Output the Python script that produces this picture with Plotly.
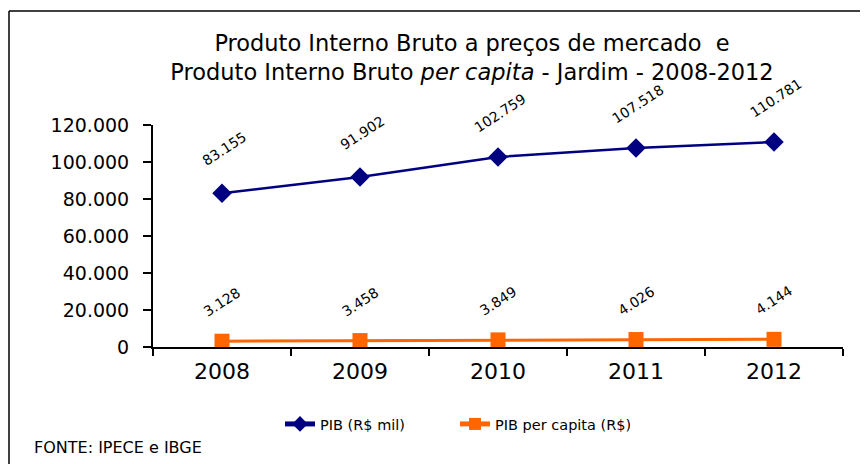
import plotly.graph_objects as go

years = ["2008", "2009", "2010", "2011", "2012"]
pib = [83155, 91902, 102759, 107518, 110781]
pib_pc = [3128, 3458, 3849, 4026, 4144]
pib_labels = ["83.155", "91.902", "102.759", "107.518", "110.781"]
pc_labels = ["3.128", "3.458", "3.849", "4.026", "4.144"]
y_ticks = [0, 20000, 40000, 60000, 80000, 100000, 120000]
y_tick_text = ["0", "20.000", "40.000", "60.000", "80.000", "100.000", "120.000"]

NAVY = "#000080"
ORANGE = "#FF6600"
FONT = "DejaVu Sans, Liberation Sans, Arial, sans-serif"

# layout geometry (figure pixel coordinates; page body adds ~8px offset)
OFF = 8
L, T, PW, PH = 153 - OFF, 125 - OFF, 690, 222
W, H = 868, 464
XB = T + PH  # x-axis y position in figure px


def px(xpix):
    return (xpix - OFF - L) / PW


def py(ypix):
    return (XB - (ypix - OFF)) / PH


fig = go.Figure()
fig.add_trace(go.Scatter(
    x=years, y=pib, name="PIB (R$ mil)", mode="lines+markers",
    line=dict(color=NAVY, width=2.5),
    marker=dict(symbol="diamond", size=15, color=NAVY),
))
fig.add_trace(go.Scatter(
    x=years, y=pib_pc, name="PIB per capita (R$)", mode="lines+markers",
    line=dict(color=ORANGE, width=3),
    marker=dict(symbol="square", size=15, color=ORANGE),
))

annotations = []
# category axis: annotation x given as category index (position in years list)
for i, (y, t) in enumerate(zip(pib, pib_labels)):
    annotations.append(dict(x=i, y=y, text=t, showarrow=False, textangle=-33,
                            yshift=44, xshift=2, font=dict(size=14, color="black", family=FONT)))
for i, (y, t) in enumerate(zip(pib_pc, pc_labels)):
    annotations.append(dict(x=i, y=y, text=t, showarrow=False, textangle=-33,
                            yshift=39, font=dict(size=14, color="black", family=FONT)))
annotations.append(dict(xref="paper", yref="paper", x=px(32), y=py(447),
                        xanchor="left", yanchor="middle", showarrow=False,
                        text="FONTE: IPECE e IBGE", font=dict(size=16, color="black", family=FONT)))

fig.update_layout(
    width=W, height=H,
    margin=dict(l=L, r=W - L - PW, t=T, b=H - T - PH),
    paper_bgcolor="white", plot_bgcolor="white",
    font=dict(family=FONT, color="black"),
    separators=",.",
    title=dict(text="Produto Interno Bruto a preços de mercado  e<br>Produto Interno Bruto <i>per capita</i> - Jardim - 2008-2012",
               x=(464) / W, xanchor="center", y=1 - 42.5 / H, yanchor="middle", yref="container",
               font=dict(size=22.5, color="black", family=FONT)),
    xaxis=dict(type="category", range=[-0.5, len(years) - 0.5], autorange=False,
               showline=True, linecolor="black", linewidth=2, automargin=False,
               ticks="outside", tickson="boundaries", ticklen=7, tickwidth=2, tickcolor="black",
               ticklabelstandoff=4,
               showgrid=False, tickfont=dict(size=22, color="black", family=FONT), zeroline=False),
    yaxis=dict(range=[0, 120000], tickvals=y_ticks, ticktext=y_tick_text, showline=True,
               linecolor="black", linewidth=2, ticks="outside", ticklen=8, tickwidth=2,
               tickcolor="black", showgrid=False, zeroline=False, automargin=False,
               ticklabelstandoff=10,
               tickfont=dict(size=19, color="black", family=FONT)),
    legend=dict(orientation="h", x=px(280), xanchor="left", y=py(424),
                yanchor="middle", font=dict(size=14.5, color="black", family=FONT),
                itemsizing="constant", entrywidth=130),
    showlegend=True,
    annotations=annotations,
    shapes=[
        dict(type="line", xref="paper", yref="paper", x0=px(9), x1=px(900),
             y0=py(11), y1=py(11), line=dict(color="black", width=1.5)),
        dict(type="line", xref="paper", yref="paper", x0=px(9), x1=px(9),
             y0=py(11), y1=py(500), line=dict(color="black", width=1.5)),
    ],
)

fig.write_html("out.html")
